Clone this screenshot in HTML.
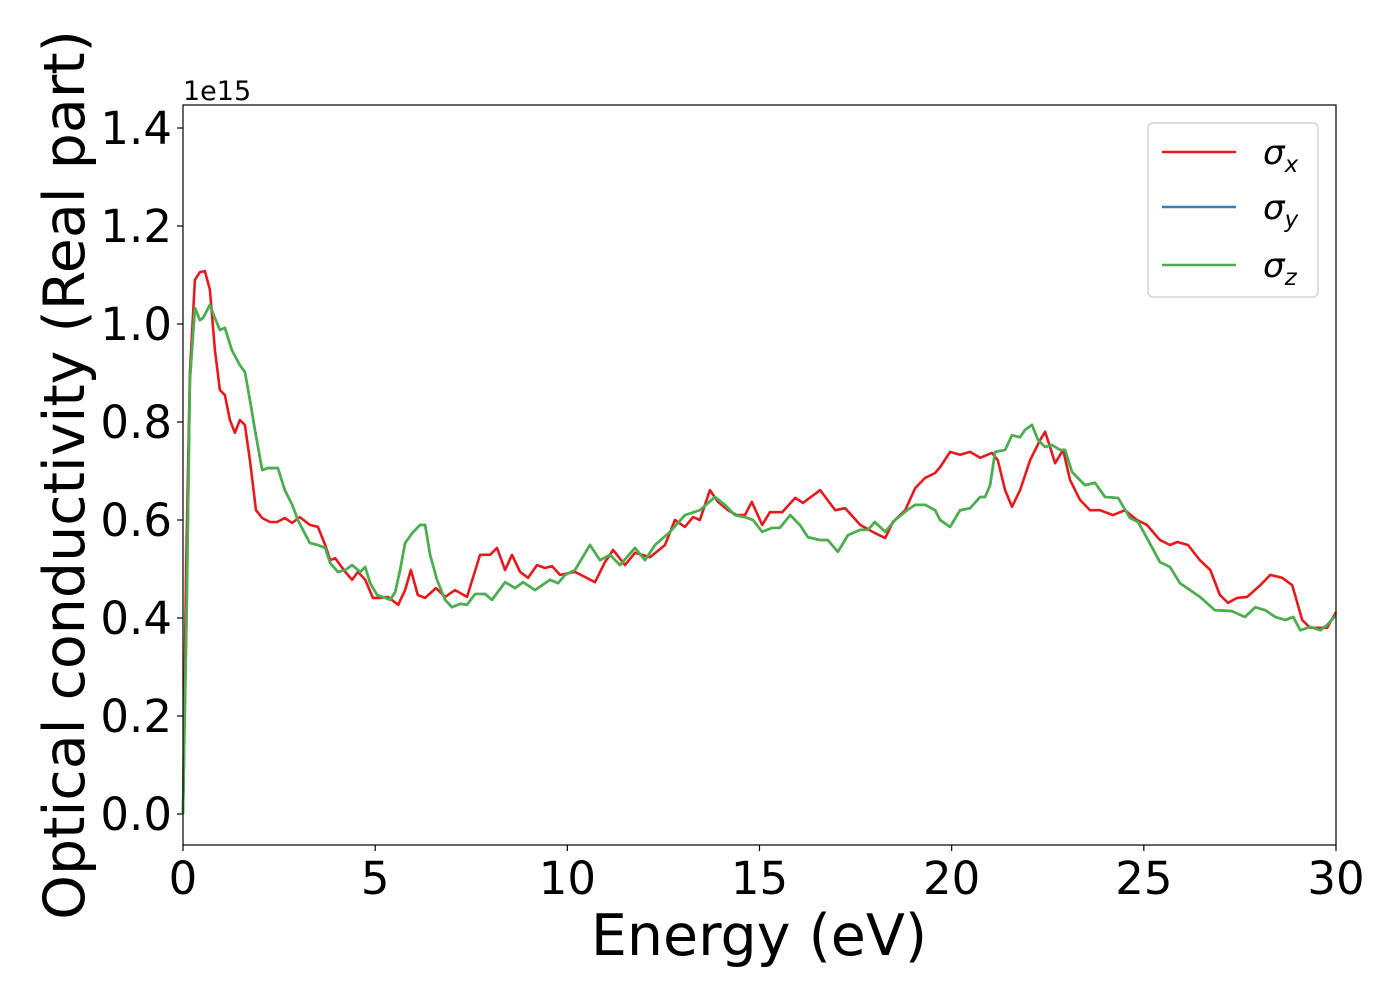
<!DOCTYPE html>
<html><head><meta charset="utf-8"><style>
html,body{margin:0;padding:0;background:#fff;}
svg{display:block;font-family:"DejaVu Sans","Liberation Sans",sans-serif;}
</style></head><body>
<svg id="chart" width="1400" height="1000" viewBox="0 0 1400 1000">
<rect x="0" y="0" width="1400" height="1000" fill="#fff"/>
<g id="grid-ticks"></g>
<g id="series"></g>
<rect x="183" y="105" width="1153" height="740" fill="none" stroke="#000" stroke-width="1.2"/>
<text x="183" y="100" font-size="27">1e15</text>
<text x="759" y="955" font-size="57" text-anchor="middle">Energy (eV)</text>
<text transform="translate(84,475) rotate(-90)" font-size="57" text-anchor="middle">Optical conductivity (Real part)</text>
<g>
<rect x="1148" y="123" width="170" height="174" rx="5" fill="#fff" stroke="#ccc" stroke-width="1.2"/>
<line x1="1162" y1="152" x2="1236" y2="152" stroke="#e41a1c" stroke-width="2.5"/>
<text x="1263" y="164" font-size="34" font-style="italic">σ<tspan font-size="23" dy="8">x</tspan></text>
<line x1="1162" y1="207" x2="1236" y2="207" stroke="#377eb8" stroke-width="2.5"/>
<text x="1263" y="219" font-size="34" font-style="italic">σ<tspan font-size="23" dy="8">y</tspan></text>
<line x1="1162" y1="265" x2="1236" y2="265" stroke="#4daf4a" stroke-width="2.5"/>
<text x="1263" y="277" font-size="34" font-style="italic">σ<tspan font-size="23" dy="8">z</tspan></text>
</g>
</svg>
<script>
const xTicks = [0,5,10,15,20,25,30];
const yTicks = [0.0,0.2,0.4,0.6,0.8,1.0,1.2,1.4];
const energyX = [0,0.08,0.18,0.31,0.44,0.57,0.7,0.83,0.96,1.09,1.22,1.35,1.48,1.61,1.74,1.9,2.06,2.26,2.45,2.65,2.84,3.04,3.3,3.51,3.7,3.83,3.96,4.22,4.4,4.55,4.74,4.94,5.13,5.33,5.6,5.78,5.93,6.11,6.3,6.58,6.82,7.08,7.39,7.73,7.99,8.17,8.38,8.56,8.77,8.98,9.21,9.42,9.6,9.81,10.2,10.72,10.98,11.19,11.5,11.76,12.15,12.54,12.8,13.06,13.27,13.45,13.71,13.92,14.18,14.41,14.62,14.8,15.07,15.27,15.59,15.93,16.13,16.58,16.97,17.23,17.62,18.01,18.27,18.47,18.79,19.05,19.31,19.57,19.7,19.96,20.22,20.48,20.74,21.05,21.2,21.39,21.57,21.78,22.04,22.3,22.43,22.56,22.69,22.9,23.08,23.34,23.6,23.86,24.2,24.51,24.82,25.08,25.42,25.68,25.87,26.15,26.46,26.73,26.98,27.19,27.43,27.69,28.03,28.29,28.6,28.86,29.12,29.33,29.59,29.77,30];
const sigmaX = [0,0.5,0.9,1.09,1.106,1.108,1.07,0.947,0.865,0.855,0.804,0.778,0.804,0.794,0.722,0.62,0.604,0.596,0.596,0.604,0.594,0.606,0.59,0.586,0.549,0.518,0.522,0.494,0.478,0.494,0.478,0.441,0.441,0.443,0.427,0.457,0.498,0.447,0.441,0.461,0.443,0.457,0.443,0.529,0.529,0.543,0.498,0.529,0.494,0.482,0.508,0.502,0.506,0.488,0.494,0.473,0.514,0.539,0.508,0.533,0.524,0.549,0.6,0.586,0.606,0.6,0.661,0.637,0.62,0.61,0.61,0.637,0.59,0.616,0.616,0.645,0.635,0.661,0.62,0.624,0.59,0.573,0.563,0.596,0.62,0.665,0.686,0.696,0.708,0.739,0.733,0.739,0.727,0.737,0.722,0.661,0.627,0.661,0.722,0.763,0.78,0.749,0.716,0.743,0.682,0.641,0.62,0.62,0.61,0.62,0.6,0.59,0.559,0.549,0.555,0.549,0.518,0.498,0.447,0.431,0.441,0.443,0.467,0.488,0.482,0.467,0.396,0.38,0.38,0.38,0.412];
const energyYZ = [0,0.1,0.18,0.31,0.44,0.52,0.7,0.83,0.96,1.09,1.27,1.48,1.61,1.74,1.87,2.06,2.21,2.47,2.65,2.84,2.99,3.12,3.3,3.51,3.7,3.83,4.03,4.22,4.4,4.61,4.74,4.87,5.05,5.26,5.39,5.52,5.65,5.78,5.96,6.17,6.3,6.43,6.61,6.82,7.0,7.21,7.39,7.6,7.86,8.04,8.38,8.64,8.85,9.16,9.55,9.76,9.94,10.2,10.59,10.85,11.11,11.37,11.76,12.02,12.28,12.67,13.06,13.45,13.84,14.1,14.36,14.62,14.83,15.07,15.33,15.53,15.8,16.05,16.26,16.58,16.78,17.04,17.3,17.62,17.82,18.0,18.27,18.53,18.84,19.05,19.31,19.57,19.7,19.96,20.22,20.48,20.74,20.87,21.0,21.13,21.39,21.57,21.78,21.91,22.09,22.25,22.43,22.61,22.82,22.95,23.13,23.47,23.73,23.99,24.33,24.64,24.85,25.11,25.42,25.68,25.94,26.2,26.46,26.85,27.29,27.63,27.9,28.16,28.42,28.68,28.89,29.07,29.33,29.59,29.77,30];
const sigmaY = [0,0.437,0.886,1.033,1.008,1.012,1.039,1.012,0.988,0.992,0.947,0.916,0.902,0.845,0.784,0.702,0.706,0.706,0.661,0.631,0.6,0.58,0.553,0.549,0.543,0.512,0.494,0.498,0.508,0.494,0.504,0.471,0.447,0.441,0.437,0.453,0.498,0.553,0.573,0.59,0.59,0.529,0.478,0.437,0.422,0.429,0.427,0.449,0.449,0.437,0.473,0.461,0.473,0.457,0.478,0.471,0.488,0.498,0.549,0.518,0.529,0.508,0.543,0.518,0.549,0.576,0.61,0.62,0.647,0.631,0.61,0.606,0.6,0.576,0.584,0.584,0.61,0.59,0.565,0.559,0.559,0.535,0.569,0.58,0.58,0.596,0.576,0.6,0.62,0.631,0.631,0.62,0.6,0.586,0.62,0.624,0.647,0.647,0.671,0.739,0.743,0.773,0.769,0.784,0.794,0.763,0.749,0.753,0.743,0.743,0.698,0.671,0.676,0.647,0.645,0.604,0.596,0.559,0.514,0.504,0.471,0.457,0.443,0.416,0.414,0.402,0.422,0.416,0.402,0.396,0.402,0.375,0.382,0.375,0.386,0.406];
const sigmaZ = [0,0.437,0.886,1.033,1.008,1.012,1.039,1.012,0.988,0.992,0.947,0.916,0.902,0.845,0.784,0.702,0.706,0.706,0.661,0.631,0.6,0.58,0.553,0.549,0.543,0.512,0.494,0.498,0.508,0.494,0.504,0.471,0.447,0.441,0.437,0.453,0.498,0.553,0.573,0.59,0.59,0.529,0.478,0.437,0.422,0.429,0.427,0.449,0.449,0.437,0.473,0.461,0.473,0.457,0.478,0.471,0.488,0.498,0.549,0.518,0.529,0.508,0.543,0.518,0.549,0.576,0.61,0.62,0.647,0.631,0.61,0.606,0.6,0.576,0.584,0.584,0.61,0.59,0.565,0.559,0.559,0.535,0.569,0.58,0.58,0.596,0.576,0.6,0.62,0.631,0.631,0.62,0.6,0.586,0.62,0.624,0.647,0.647,0.671,0.739,0.743,0.773,0.769,0.784,0.794,0.763,0.749,0.753,0.743,0.743,0.698,0.671,0.676,0.647,0.645,0.604,0.596,0.559,0.514,0.504,0.471,0.457,0.443,0.416,0.414,0.402,0.422,0.416,0.402,0.396,0.402,0.375,0.382,0.375,0.386,0.406];

const NS = "http://www.w3.org/2000/svg";
const X0 = 183, X1 = 1336, XMIN = 0, XMAX = 30;
const Y0 = 814, YPER = 490;
function sx(v){ return X0 + (v - XMIN) / (XMAX - XMIN) * (X1 - X0); }
function sy(v){ return Y0 - v * YPER; }

const tg = document.getElementById('grid-ticks');
xTicks.forEach(t => {
  const l = document.createElementNS(NS, 'line');
  l.setAttribute('x1', sx(t)); l.setAttribute('x2', sx(t));
  l.setAttribute('y1', 845); l.setAttribute('y2', 851);
  l.setAttribute('stroke', '#000'); l.setAttribute('stroke-width', '1.2');
  
  
  tg.appendChild(l);
  const tx = document.createElementNS(NS, 'text');
  tx.setAttribute('x', sx(t)); tx.setAttribute('y', 894);
  tx.setAttribute('font-size', '45'); tx.setAttribute('text-anchor', 'middle');
  tx.textContent = String(t);
  
  
  tg.appendChild(tx);
});
yTicks.forEach(t => {
  const l = document.createElementNS(NS, 'line');
  l.setAttribute('x1', 177); l.setAttribute('x2', 183);
  l.setAttribute('y1', sy(t)); l.setAttribute('y2', sy(t));
  l.setAttribute('stroke', '#000'); l.setAttribute('stroke-width', '1.2');
  
  
  tg.appendChild(l);
  const tx = document.createElementNS(NS, 'text');
  tx.setAttribute('x', 172); tx.setAttribute('y', sy(t) + 16);
  tx.setAttribute('font-size', '45'); tx.setAttribute('text-anchor', 'end');
  tx.textContent = t.toFixed(1);
  
  
  tg.appendChild(tx);
});

const sg = document.getElementById('series');
function drawLine(xs, ys, color, name){
  const p = document.createElementNS(NS, 'polyline');
  p.setAttribute('points', xs.map((x,i) => sx(x).toFixed(1) + ',' + sy(ys[i]).toFixed(1)).join(' '));
  p.setAttribute('fill', 'none'); p.setAttribute('stroke', color);
  p.setAttribute('stroke-width', '2.6'); p.setAttribute('stroke-linejoin', 'round');
  
  
  sg.appendChild(p);
}
drawLine(energyX, sigmaX, '#e41a1c', 'series-sigma-x');
drawLine(energyYZ, sigmaY, '#377eb8', 'series-sigma-y');
drawLine(energyYZ, sigmaZ, '#4daf4a', 'series-sigma-z');
</script>
</body></html>
